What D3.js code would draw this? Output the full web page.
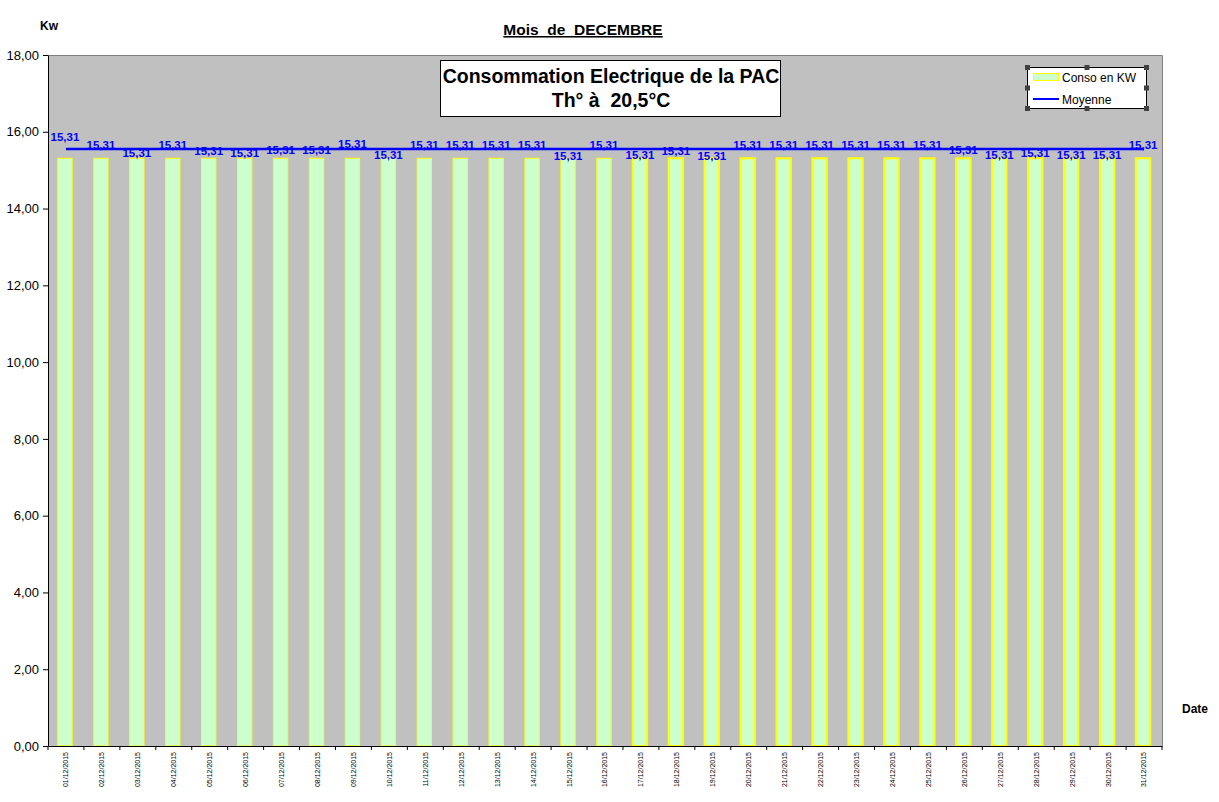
<!DOCTYPE html>
<html>
<head>
<meta charset="utf-8">
<script src="https://cdn.jsdelivr.net/npm/d3@7"></script>
<style>
  body { margin: 0; background: #fff; }
  svg text { font-family: "Liberation Sans", Arial, sans-serif; }
</style>
</head>
<body>
<div id="chart"></div>
<script>
// daily values for December 2015
const dates = ["01/12/2015","02/12/2015","03/12/2015","04/12/2015","05/12/2015","06/12/2015","07/12/2015",
  "08/12/2015","09/12/2015","10/12/2015","11/12/2015","12/12/2015","13/12/2015","14/12/2015","15/12/2015",
  "16/12/2015","17/12/2015","18/12/2015","19/12/2015","20/12/2015","21/12/2015","22/12/2015","23/12/2015",
  "24/12/2015","25/12/2015","26/12/2015","27/12/2015","28/12/2015","29/12/2015","30/12/2015","31/12/2015"];
const conso = [15.31,15.31,15.31,15.31,15.31,15.31,15.31,15.31,15.31,15.31,15.31,15.31,15.31,15.31,15.31,
  15.31,15.31,15.31,15.31,15.31,15.31,15.31,15.31,15.31,15.31,15.31,15.31,15.31,15.31,15.31,15.31];
const moyenne = [15.55,15.55,15.55,15.55,15.55,15.55,15.55,15.55,15.55,15.55,15.55,15.55,15.55,15.55,15.55,
  15.55,15.55,15.55,15.55,15.55,15.55,15.55,15.55,15.55,15.55,15.55,15.55,15.55,15.55,15.55,15.55];
const yTicks = [0, 2, 4, 6, 8, 10, 12, 14, 16, 18];

// vertical nudge of each data label (px, relative to the line) - as placed in the original
const labelShift = [-12,-4,4,-4,2,4,1,1,-5,6,-4,-4,-4,-4,7,-4,6,2,7,-4,-4,-4,-4,-4,-4,1,6,4,6,6,-4];

const W = 1219, H = 802;
const plot = { left: 48, top: 55, right: 1162, bottom: 746 };

const svg = d3.select("#chart").append("svg")
    .attr("width", W)
    .attr("height", H);

const x = d3.scaleBand()
    .domain(dates)
    .range([plot.left, plot.right])
    .paddingInner(0.6)
    .paddingOuter(0.3);

const xBand = d3.scaleBand().domain(dates).range([plot.left, plot.right]);

const y = d3.scaleLinear().domain([0, 18]).range([plot.bottom, plot.top]);

const fmt = d => d.toFixed(2).replace(".", ",");

// plot background
svg.append("rect")
    .attr("x", plot.left).attr("y", plot.top)
    .attr("width", plot.right - plot.left).attr("height", plot.bottom - plot.top)
    .attr("fill", "#c0c0c0");
svg.append("path")
    .attr("d", `M${plot.left},${plot.top + 0.5}H${plot.right + 0.5}V${plot.bottom}`)
    .attr("fill", "none").attr("stroke", "#808080").attr("stroke-width", 1);

// bars
svg.selectAll("rect.bar")
    .data(conso)
    .enter()
    .append("rect")
    .attr("class", "bar")
    .attr("x", (d, i) => x(dates[i]) - 1)
    .attr("y", d => y(d))
    .attr("width", x.bandwidth())
    .attr("height", d => plot.bottom - y(d))
    .attr("fill", "#ccffcc")
    .attr("stroke", "#ffff00")
    .attr("stroke-width", (d, i) => i >= 16 ? 2 : 1);

// moyenne line
const line = d3.line()
    .x((d, i) => xBand(dates[i]) + xBand.bandwidth() / 2)
    .y(d => y(d));
svg.append("path")
    .datum(moyenne)
    .attr("fill", "none")
    .attr("stroke", "#0000ff")
    .attr("stroke-width", 2.5)
    .attr("d", line);

// data labels
svg.selectAll("text.lbl")
    .data(conso)
    .enter()
    .append("text")
    .attr("class", "lbl")
    .attr("x", (d, i) => xBand(dates[i]) + xBand.bandwidth() / 2 - 1)
    .attr("y", (d, i) => y(moyenne[i]) + labelShift[i] + 4)
    .attr("text-anchor", "middle")
    .attr("font-size", "11.5px")
    .attr("font-weight", "bold")
    .attr("fill", "#0000ff")
    .text(d => fmt(d));

// y axis
const yAxis = d3.axisLeft(y).tickValues(yTicks).tickFormat(fmt).tickSize(5).tickSizeOuter(0);
const gy = svg.append("g")
    .attr("transform", `translate(${plot.left},0)`)
    .call(yAxis);
gy.selectAll("text").attr("font-size", "13px").attr("fill", "#000").attr("font-family", "Liberation Sans, Arial").attr("dx", "-1");
gy.select(".domain").attr("stroke", "#000");

// x axis
const xAxis = d3.axisBottom(xBand).tickSize(0).tickSizeOuter(0);
const gx = svg.append("g")
    .attr("transform", `translate(0,${plot.bottom})`)
    .call(xAxis);
gx.select(".domain").attr("stroke", "#000");
gx.selectAll(".tick text")
    .attr("font-size", "7px")
    .attr("font-family", "Liberation Sans, Arial")
    .attr("fill", "#000")
    .attr("transform", "rotate(-90)")
    .attr("text-anchor", "end")
    .attr("x", -6)
    .attr("y", 0)
    .attr("dy", "0.35em");
// tick marks at category boundaries
svg.append("g").selectAll("line")
    .data(dates.concat(["end"]))
    .enter()
    .append("line")
    .attr("x1", (d, i) => i < dates.length ? xBand(d) : plot.right)
    .attr("x2", (d, i) => i < dates.length ? xBand(d) : plot.right)
    .attr("y1", plot.bottom)
    .attr("y2", plot.bottom + 4)
    .attr("stroke", "#000");

// titles
svg.append("text")
    .attr("x", 583).attr("y", 35)
    .attr("text-anchor", "middle")
    .attr("font-size", "15.5px").attr("font-weight", "bold")
    .attr("text-decoration", "underline")
    .style("white-space", "pre")
    .text("Mois  de  DECEMBRE");
svg.append("text")
    .attr("x", 40).attr("y", 30)
    .attr("font-size", "12px").attr("font-weight", "bold")
    .text("Kw");
svg.append("text")
    .attr("x", 1182).attr("y", 713)
    .attr("font-size", "12px").attr("font-weight", "bold")
    .text("Date");

// title box
svg.append("rect")
    .attr("x", 440.5).attr("y", 60.5).attr("width", 340).attr("height", 56)
    .attr("fill", "#fff").attr("stroke", "#000");
svg.append("text")
    .attr("x", 611).attr("y", 83)
    .attr("text-anchor", "middle")
    .attr("font-size", "19.5px").attr("font-weight", "bold")
    .text("Consommation Electrique de la PAC");
svg.append("text")
    .attr("x", 611).attr("y", 107)
    .attr("text-anchor", "middle")
    .attr("font-size", "19.5px").attr("font-weight", "bold")
    .style("white-space", "pre")
    .text("Th° à  20,5°C");

// legend
const lg = { x: 1027, y: 67, w: 119, h: 41 };
svg.append("rect")
    .attr("x", lg.x + 0.5).attr("y", lg.y + 0.5).attr("width", lg.w).attr("height", lg.h)
    .attr("fill", "#fff").attr("stroke", "#000");
svg.append("rect")
    .attr("x", lg.x + 6.5).attr("y", lg.y + 6.5).attr("width", 25).attr("height", 7)
    .attr("fill", "#ccffcc").attr("stroke", "#ffff00");
svg.append("line")
    .attr("x1", lg.x + 6).attr("x2", lg.x + 32)
    .attr("y1", lg.y + 32).attr("y2", lg.y + 32)
    .attr("stroke", "#0000ff").attr("stroke-width", 2);
svg.append("text")
    .attr("x", lg.x + 35).attr("y", lg.y + 15)
    .attr("font-size", "12px").text("Conso en KW");
svg.append("text")
    .attr("x", lg.x + 35).attr("y", lg.y + 37)
    .attr("font-size", "12px").text("Moyenne");
// selection handles
const hx = [0, 0.5, 1], hy = [0, 0.5, 1];
hx.forEach(a => hy.forEach(b => {
    if (a === 0.5 && b === 0.5) return;
    svg.append("rect")
        .attr("x", lg.x + a * lg.w - 2).attr("y", lg.y + b * lg.h - 2)
        .attr("width", 5).attr("height", 5)
        .attr("fill", "#404040");
}));
</script>
</body>
</html>
